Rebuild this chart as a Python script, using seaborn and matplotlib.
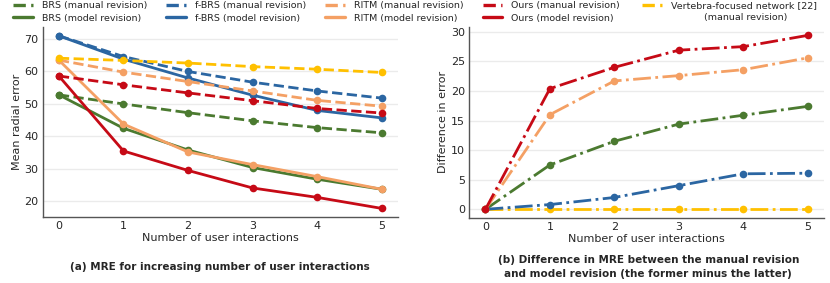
import numpy as np
import matplotlib
matplotlib.use("Agg")
import matplotlib.pyplot as plt
from matplotlib.lines import Line2D
import seaborn as sns

# number of user interactions
interactions = [0, 1, 2, 3, 4, 5]

# (a) mean radial error
brs_manual = [52.7, 49.9, 47.2, 44.7, 42.6, 41.0]
brs_model = [52.7, 42.4, 35.7, 30.3, 26.7, 23.6]
fbrs_manual = [70.9, 64.5, 59.9, 56.6, 53.9, 51.7]
fbrs_model = [70.9, 63.7, 57.9, 52.6, 47.9, 45.6]
ritm_manual = [63.4, 59.7, 56.8, 53.9, 51.0, 49.2]
ritm_model = [63.4, 43.7, 35.1, 31.2, 27.5, 23.6]
ours_manual = [58.5, 55.8, 53.3, 50.9, 48.5, 47.1]
ours_model = [58.5, 35.4, 29.4, 24.0, 21.1, 17.7]
vert_manual = [64.0, 63.3, 62.5, 61.4, 60.6, 59.6]

# (b) difference manual - model
brs_diff = [0.0, 7.5, 11.5, 14.4, 15.9, 17.4]
fbrs_diff = [0.0, 0.8, 2.0, 4.0, 6.0, 6.1]
ritm_diff = [0.0, 16.0, 21.7, 22.6, 23.6, 25.6]
ours_diff = [0.0, 20.4, 24.0, 26.9, 27.5, 29.4]
vert_diff = [0.0, 0.0, 0.0, 0.0, 0.0, 0.0]

methods = ["BRS", "f-BRS", "RITM", "Ours"]
colors = {"BRS": "#4b7a30", "f-BRS": "#2b66a2", "RITM": "#f4a064",
          "Ours": "#c60a16", "Vert": "#ffc000"}

sns.set_style("white")
plt.rcParams["font.family"] = ["DejaVu Sans"]

fig = plt.figure(figsize=(8.3, 2.83), dpi=100)
ax1 = fig.add_axes([0.0515, 0.233, 0.428, 0.671])
ax2 = fig.add_axes([0.5655, 0.2297, 0.427, 0.676])

lw, ms = 2.0, 5.5

manual_vals = [brs_manual, fbrs_manual, ritm_manual, ours_manual]
model_vals = [brs_model, fbrs_model, ritm_model, ours_model]
for m, man, mod in zip(methods, manual_vals, model_vals):
    sns.lineplot(x=interactions, y=man, ax=ax1, color=colors[m], marker="o",
                 linestyle="--", lw=lw, ms=ms, markeredgewidth=0, legend=False)
    sns.lineplot(x=interactions, y=mod, ax=ax1, color=colors[m], marker="o",
                 linestyle="-", lw=lw, ms=ms, markeredgewidth=0, legend=False)
sns.lineplot(x=interactions, y=vert_manual, ax=ax1, color=colors["Vert"], marker="o",
             linestyle="--", lw=lw, ms=ms, markeredgewidth=0, legend=False)

sns.lineplot(x=interactions, y=vert_diff, ax=ax2, color=colors["Vert"], marker="o",
             linestyle="-.", lw=lw, ms=ms, markeredgewidth=0, legend=False)
for m, d in zip(methods, [brs_diff, fbrs_diff, ritm_diff, ours_diff]):
    sns.lineplot(x=interactions, y=d, ax=ax2, color=colors[m], marker="o",
                 linestyle="-.", lw=lw, ms=ms, markeredgewidth=0, legend=False)

for ax in (ax1, ax2):
    ax.yaxis.grid(True, color="#ebebeb", lw=1)
    ax.set_axisbelow(True)
    sns.despine(ax=ax)
    for s in ("left", "bottom"):
        ax.spines[s].set_color("#555555")
        ax.spines[s].set_linewidth(1.0)
    ax.tick_params(direction="in", length=4, width=1, color="#333333",
                   labelsize=8, pad=3)
    ax.set_xticks(interactions)
    ax.set_xlabel("Number of user interactions", fontsize=8, labelpad=1)

ax1.set_yticks([20, 30, 40, 50, 60, 70])
ax1.set_ylabel("Mean radial error", fontsize=8, labelpad=2)
ax2.set_yticks([0, 5, 10, 15, 20, 25, 30])
ax2.set_ylabel("Difference in error", fontsize=8, labelpad=2)

fig.text(0.2655, 0.057, "(a) MRE for increasing number of user interactions",
         ha="center", va="center", fontsize=7.5, fontweight="bold")
fig.text(0.781, 0.057, "(b) Difference in MRE between the manual revision\n"
         "and model revision (the former minus the latter)",
         ha="center", va="center", fontsize=7.5, fontweight="bold",
         multialignment="center", linespacing=1.55)

# legend across the top: four method columns, then the vertebra entry
handles, labels = [], []
for m in methods:
    handles.append(Line2D([], [], color=colors[m], lw=2.4, linestyle="--"))
    labels.append(f"{m} (manual revision)")
    handles.append(Line2D([], [], color=colors[m], lw=2.4, linestyle="-"))
    labels.append(f"{m} (model revision)")

leg_kw = dict(frameon=False, fontsize=6.8, handlelength=2.1, handletextpad=0.95,
              columnspacing=2.0, labelspacing=0.4, borderpad=0.0, borderaxespad=0.0)
fig.legend(handles, labels, loc="upper left", bbox_to_anchor=(0.016, 0.997),
           ncol=4, **leg_kw)
fig.legend([Line2D([], [], color=colors["Vert"], lw=2.4, linestyle="--")],
           ["Vertebra-focused network [22]"], loc="upper left",
           bbox_to_anchor=(0.7735, 0.997), **leg_kw)
fig.text(0.8985, 0.937, "(manual revision)", ha="center", va="center", fontsize=6.8)

fig.savefig("out.png", dpi=100)
